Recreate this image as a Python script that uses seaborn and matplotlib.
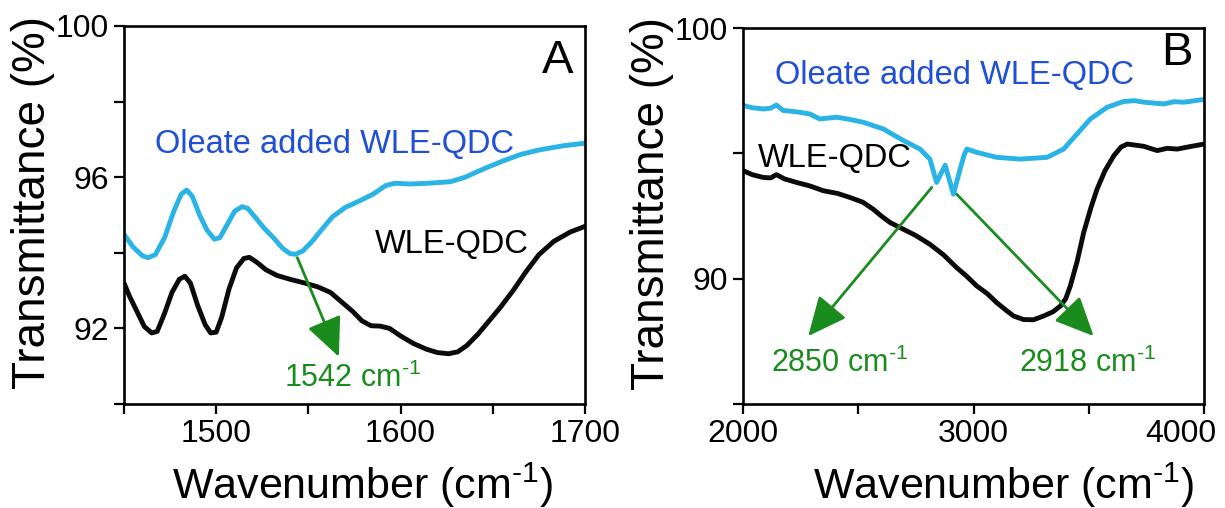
import numpy as np
import pandas as pd
import matplotlib
matplotlib.use('Agg')
import matplotlib.pyplot as plt
import matplotlib.transforms as mtransforms
import seaborn as sns

# ---- Panel A data (1450-1700 cm-1) ----
wn_a_oleate = [1450, 1455, 1460, 1463, 1467, 1472, 1477, 1481, 1484, 1487, 1491, 1495,
               1499, 1502, 1506, 1510, 1514, 1517, 1521, 1526, 1531, 1536, 1540, 1543,
               1547, 1552, 1557, 1563, 1570, 1578, 1585, 1592, 1597, 1605, 1615, 1627,
               1635, 1645, 1655, 1665, 1675, 1688, 1700]
t_a_oleate = [94.49, 94.15, 93.92, 93.87, 93.95, 94.4, 95.1, 95.55, 95.66, 95.5, 95.0, 94.6,
              94.36, 94.4, 94.75, 95.1, 95.22, 95.18, 94.95, 94.65, 94.4, 94.12, 93.98, 93.96,
              94.05, 94.3, 94.6, 94.95, 95.2, 95.38, 95.55, 95.78, 95.84, 95.82, 95.84, 95.88,
              96.0, 96.22, 96.42, 96.6, 96.72, 96.83, 96.9]

wn_a_wle = [1450, 1453, 1457, 1461, 1465, 1468, 1472, 1476, 1480, 1483, 1486, 1490, 1494,
            1497, 1500, 1503, 1507, 1511, 1515, 1518, 1522, 1527, 1533, 1540, 1548, 1555,
            1562, 1568, 1574, 1579, 1584, 1589, 1594, 1600, 1607, 1614, 1620, 1626, 1631,
            1636, 1642, 1648, 1654, 1661, 1668, 1675, 1683, 1692, 1700]
t_a_wle = [93.2, 92.85, 92.45, 92.05, 91.88, 91.92, 92.4, 92.95, 93.3, 93.38, 93.2, 92.6, 92.1,
           91.88, 91.9, 92.3, 93.05, 93.6, 93.85, 93.88, 93.75, 93.55, 93.4, 93.3, 93.2, 93.1,
           92.95, 92.7, 92.45, 92.2, 92.07, 92.06, 92.0, 91.8, 91.6, 91.45, 91.36, 91.33, 91.38,
           91.55, 91.85, 92.2, 92.55, 93.0, 93.5, 93.95, 94.3, 94.55, 94.7]

# ---- Panel B data (2000-4000 cm-1) ----
wn_b_oleate = [2000, 2040, 2087, 2120, 2145, 2174, 2230, 2290, 2333, 2406, 2460, 2522, 2609,
               2696, 2768, 2811, 2840, 2877, 2913, 2942, 2960, 2971, 3014, 3101, 3203, 3319,
               3391, 3449, 3507, 3580, 3652, 3700, 3739, 3826, 3870, 3913, 4000]
t_b_oleate = [96.91, 96.82, 96.77, 96.8, 96.93, 96.71, 96.66, 96.57, 96.37, 96.44, 96.36, 96.24,
              95.97, 95.51, 95.17, 94.77, 93.84, 94.53, 93.37, 94.37, 94.95, 95.17, 95.04, 94.84,
              94.77, 94.84, 95.17, 95.77, 96.37, 96.84, 97.07, 97.1, 97.04, 96.97, 97.06, 97.04,
              97.15]

wn_b_wle = [2000, 2040, 2087, 2120, 2145, 2180, 2232, 2290, 2348, 2410, 2464, 2520, 2565, 2600,
            2638, 2696, 2750, 2811, 2870, 2927, 2970, 3014, 3060, 3101, 3140, 3174, 3217, 3260,
            3304, 3345, 3377, 3400, 3420, 3450, 3478, 3510, 3536, 3570, 3609, 3640, 3667, 3700,
            3739, 3797, 3840, 3884, 3940, 4000]
t_b_wle = [94.31, 94.15, 94.04, 94.02, 94.15, 93.98, 93.84, 93.7, 93.51, 93.4, 93.24, 93.05,
           92.77, 92.5, 92.24, 91.97, 91.72, 91.37, 90.95, 90.44, 90.1, 89.71, 89.4, 89.04,
           88.75, 88.51, 88.37, 88.36, 88.51, 88.68, 88.91, 89.2, 89.71, 90.7, 91.84, 92.85,
           93.57, 94.3, 94.91, 95.25, 95.37, 95.33, 95.28, 95.11, 95.2, 95.17, 95.27, 95.37]

BLACK = '#000000'
SKY = '#2ab4e6'
TXT_BLUE = '#1f4fd6'
GREEN = '#1a8c1e'

sns.set_style('ticks')
plt.rcParams['font.family'] = ['Liberation Sans', 'DejaVu Sans']
plt.rcParams['mathtext.fontset'] = 'custom'
plt.rcParams['mathtext.rm'] = 'Liberation Sans'
plt.rcParams['mathtext.it'] = 'Liberation Sans'
plt.rcParams['axes.linewidth'] = 1.9
plt.rcParams['text.color'] = BLACK

fig = plt.figure(figsize=(12.25, 5.08), dpi=100)
W, H = 1225, 508
ax_a = fig.add_axes([124 / W, 1 - 404 / H, 461 / W, 378 / H])
ax_b = fig.add_axes([743 / W, 1 - 404 / H, 461 / W, 376 / H])

df_a = pd.concat([
    pd.DataFrame({'wn': wn_a_wle, 'T': t_a_wle, 'sample': 'WLE-QDC'}),
    pd.DataFrame({'wn': wn_a_oleate, 'T': t_a_oleate, 'sample': 'Oleate added WLE-QDC'}),
])
df_b = pd.concat([
    pd.DataFrame({'wn': wn_b_wle, 'T': t_b_wle, 'sample': 'WLE-QDC'}),
    pd.DataFrame({'wn': wn_b_oleate, 'T': t_b_oleate, 'sample': 'Oleate added WLE-QDC'}),
])
pal = {'WLE-QDC': '#0b0b0b', 'Oleate added WLE-QDC': SKY}

for ax, df in [(ax_a, df_a), (ax_b, df_b)]:
    sns.lineplot(data=df, x='wn', y='T', hue='sample', palette=pal, sort=False,
                 estimator=None, linewidth=3.5, legend=False, ax=ax)

arrow_kw = dict(arrowstyle='-|>,head_length=1.2,head_width=0.55', color=GREEN,
                lw=2.0, mutation_scale=20, shrinkA=0, shrinkB=0)
cm1 = r'cm$^{\mathregular{‐1}}$'

# Panel A
ax_a.set_xlim(1450, 1700)
ax_a.set_ylim(90, 100)
ax_a.set_xticks([1500, 1600, 1700])
ax_a.set_xticks([1450, 1550, 1650], minor=True)
ax_a.set_yticks([92, 96, 100])
ax_a.set_yticks([90, 94, 98], minor=True)
ax_a.text(1685, 99.07, 'A', fontsize=34, color=BLACK, ha='center', va='center')
ax_a.text(1564, 96.87, 'Oleate added WLE-QDC', color=TXT_BLUE, fontsize=23.5,
          ha='center', va='center')
ax_a.text(1586, 94.23, 'WLE-QDC', color=BLACK, fontsize=23.5, ha='left', va='center')
ax_a.annotate('', xy=(1566.5, 91.25), xytext=(1544, 93.87), arrowprops=arrow_kw)
ax_a.text(1574, 90.68, '1542 ' + cm1, color=GREEN, fontsize=22, ha='center', va='center')

# Panel B
ax_b.set_xlim(2000, 4000)
ax_b.set_ylim(85, 100)
ax_b.set_xticks([2000, 3000, 4000])
ax_b.set_xticks([2500, 3500], minor=True)
ax_b.set_yticks([90, 100])
ax_b.set_yticks([85, 95], minor=True)
ax_b.text(3883, 99.02, 'B', fontsize=34, color=BLACK, ha='center', va='center')
ax_b.text(2918, 98.09, 'Oleate added WLE-QDC', color=TXT_BLUE, fontsize=23.5,
          ha='center', va='center')
ax_b.text(2063, 94.8, 'WLE-QDC', color=BLACK, fontsize=23.5, ha='left', va='center')
ax_b.annotate('', xy=(2283, 87.71), xytext=(2819, 93.64), arrowprops=arrow_kw)
ax_b.annotate('', xy=(3521, 87.71), xytext=(2927, 93.37), arrowprops=arrow_kw)
ax_b.text(2420, 86.64, '2850 ' + cm1, color=GREEN, fontsize=22, ha='center', va='center')
ax_b.text(3493, 86.64, '2918 ' + cm1, color=GREEN, fontsize=22, ha='center', va='center')

for ax, xl in [(ax_a, 0.518), (ax_b, 0.566)]:
    for s in ax.spines.values():
        s.set_visible(True)
        s.set_color(BLACK)
    ax.tick_params(which='both', direction='out', length=7, width=1.6, colors=BLACK,
                   labelsize=23, pad=4)
    ax.set_xlabel('Wavenumber (' + cm1 + ')', fontsize=31, color=BLACK)
    ax.set_ylabel('Transmittance (%)', fontsize=33, color=BLACK)
    ax.xaxis.set_label_coords(xl, -0.15)
    ax.yaxis.set_label_coords(-0.15, 0.532)

# last tick label of panel B sits left of its tick in the original
lab = ax_b.xaxis.get_majorticklabels()[-1]
lab.set_transform(lab.get_transform() +
                  mtransforms.ScaledTranslation(-0.23, 0, fig.dpi_scale_trans))

fig.savefig('out.png', dpi=100)
